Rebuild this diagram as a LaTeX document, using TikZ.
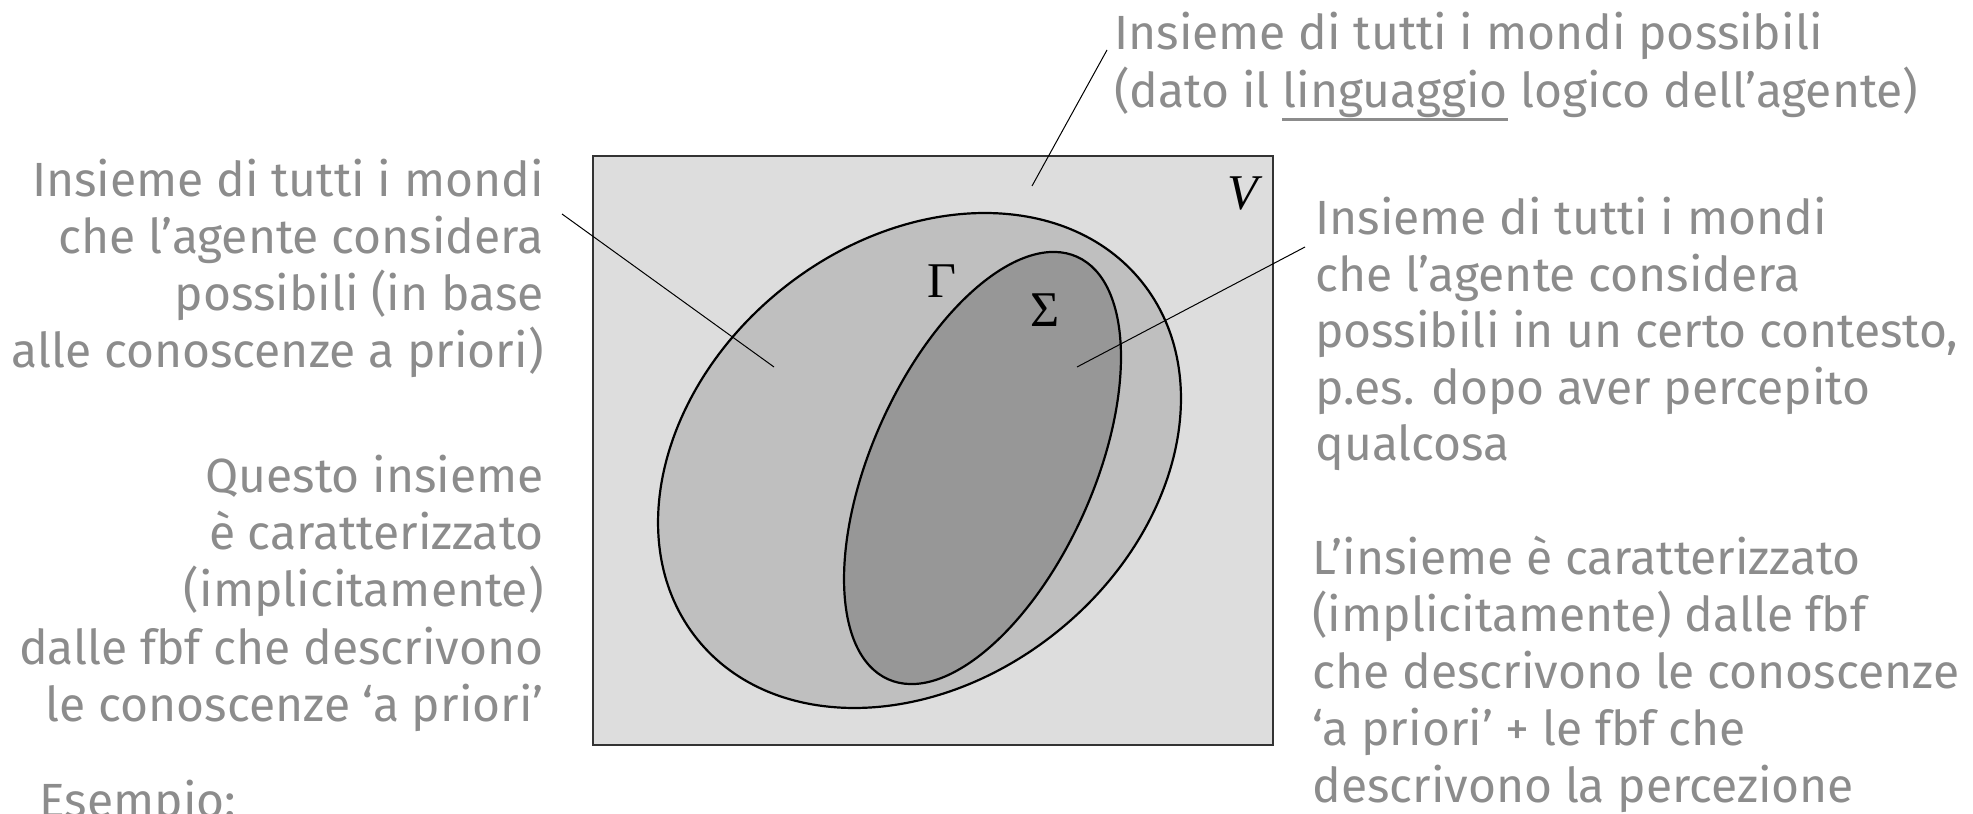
\documentclass[tikz,border=0pt]{standalone}
\usepackage{fontspec}
\setmainfont{Fira Sans}
\newfontfamily\symfont{Liberation Serif}
\usetikzlibrary{positioning}
\definecolor{txtgray}{RGB}{140,140,140}
\definecolor{worldfill}{RGB}{221,221,221}
\definecolor{gammafill}{RGB}{191,191,191}
\definecolor{sigmafill}{RGB}{151,151,151}
\newcommand\ulword[1]{\setbox0\hbox{#1}\rlap{\rule[-6.5pt]{\wd0}{1.3pt}}\box0\relax}

\begin{document}
\begin{tikzpicture}[x=0.5pt, y=0.5pt,
  lbl/.style={inner sep=0pt, text=txtgray, font=\fontsize{24}{24}\selectfont},
  sym/.style={inner sep=0pt, font=\symfont\fontsize{25}{25}\selectfont},
  leader/.style={line width=0.5pt},
  setline/.style={line width=1.1pt}
]
\useasboundingbox (0,0) rectangle (1973,813);

% universe of worlds
\node[draw=black!80, fill=worldfill, line width=0.6pt, inner sep=0pt,
      minimum width=340pt, minimum height=294.5pt] (univ) at (933,362.5) {};
\draw[setline, fill=gammafill, rotate around={38.8:(919.5,352.5)}]
  (919.5,352.5) ellipse [x radius=285.2, y radius=219.7];
\draw[setline, fill=sigmafill, rotate around={65.9:(982.5,345)}]
  (982.5,345) ellipse [x radius=231.4, y radius=110.9];
\node[sym] (vlab) at (1243,619) {\itshape V};
\node[sym] (glab) at (942,532) {Γ};
\node[sym] (slab) at (1045,503) {Σ};

% leaders
\coordinate (toptip) at (1107,763);
\coordinate (topend) at (1032,627);
\coordinate (lefttip) at (562,599);
\coordinate (leftend) at (774,446);
\coordinate (righttip) at (1305,566);
\coordinate (rightend) at (1077,446);
\draw[leader] (toptip) -- (topend);
\draw[leader] (lefttip) -- (leftend);
\draw[leader] (righttip) -- (rightend);

% left texts
\foreach \ln [count=\i] in {Insieme di tutti i mondi, che l’agente considera,
    {possibili (in base}, {alle conoscenze a priori)}}
  \node[lbl, anchor=base east] (gam-\i) at (544,673-\i*57) {\ln};
\foreach \ln [count=\i] in {Questo insieme, è caratterizzato, (implicitamente),
    dalle fbf che descrivono, le conoscenze ‘a priori’}
  \node[lbl, anchor=base east] (gamk-\i) at (544,378-\i*57.3) {\ln};
\node[lbl, anchor=base west] (esem) at (39,-4) {Esempio:};

% top text
\foreach \ln [count=\i] in {Insieme di tutti i mondi possibili,
    {(dato il \ulword{linguaggio} logico dell’agente)}}
  \node[lbl, anchor=base west] (univ-\i) at (1114,821-\i*58) {\ln};

% right texts
\foreach \ln [count=\i] in {Insieme di tutti i mondi, che l’agente considera,
    {possibili in un certo contesto,}, p.es. dopo aver percepito, qualcosa}
  \node[lbl, anchor=base west] (sig-\i) at (1315,634.5-\i*56.5) {\ln};
\foreach \ln [count=\i] in {L’insieme è caratterizzato, (implicitamente) dalle fbf,
    che descrivono le conoscenze, ‘a priori’ + le fbf che, descrivono la percezione}
  \node[lbl, anchor=base west] (sigk-\i) at (1312,295-\i*56.9) {\ln};
\end{tikzpicture}
\end{document}
